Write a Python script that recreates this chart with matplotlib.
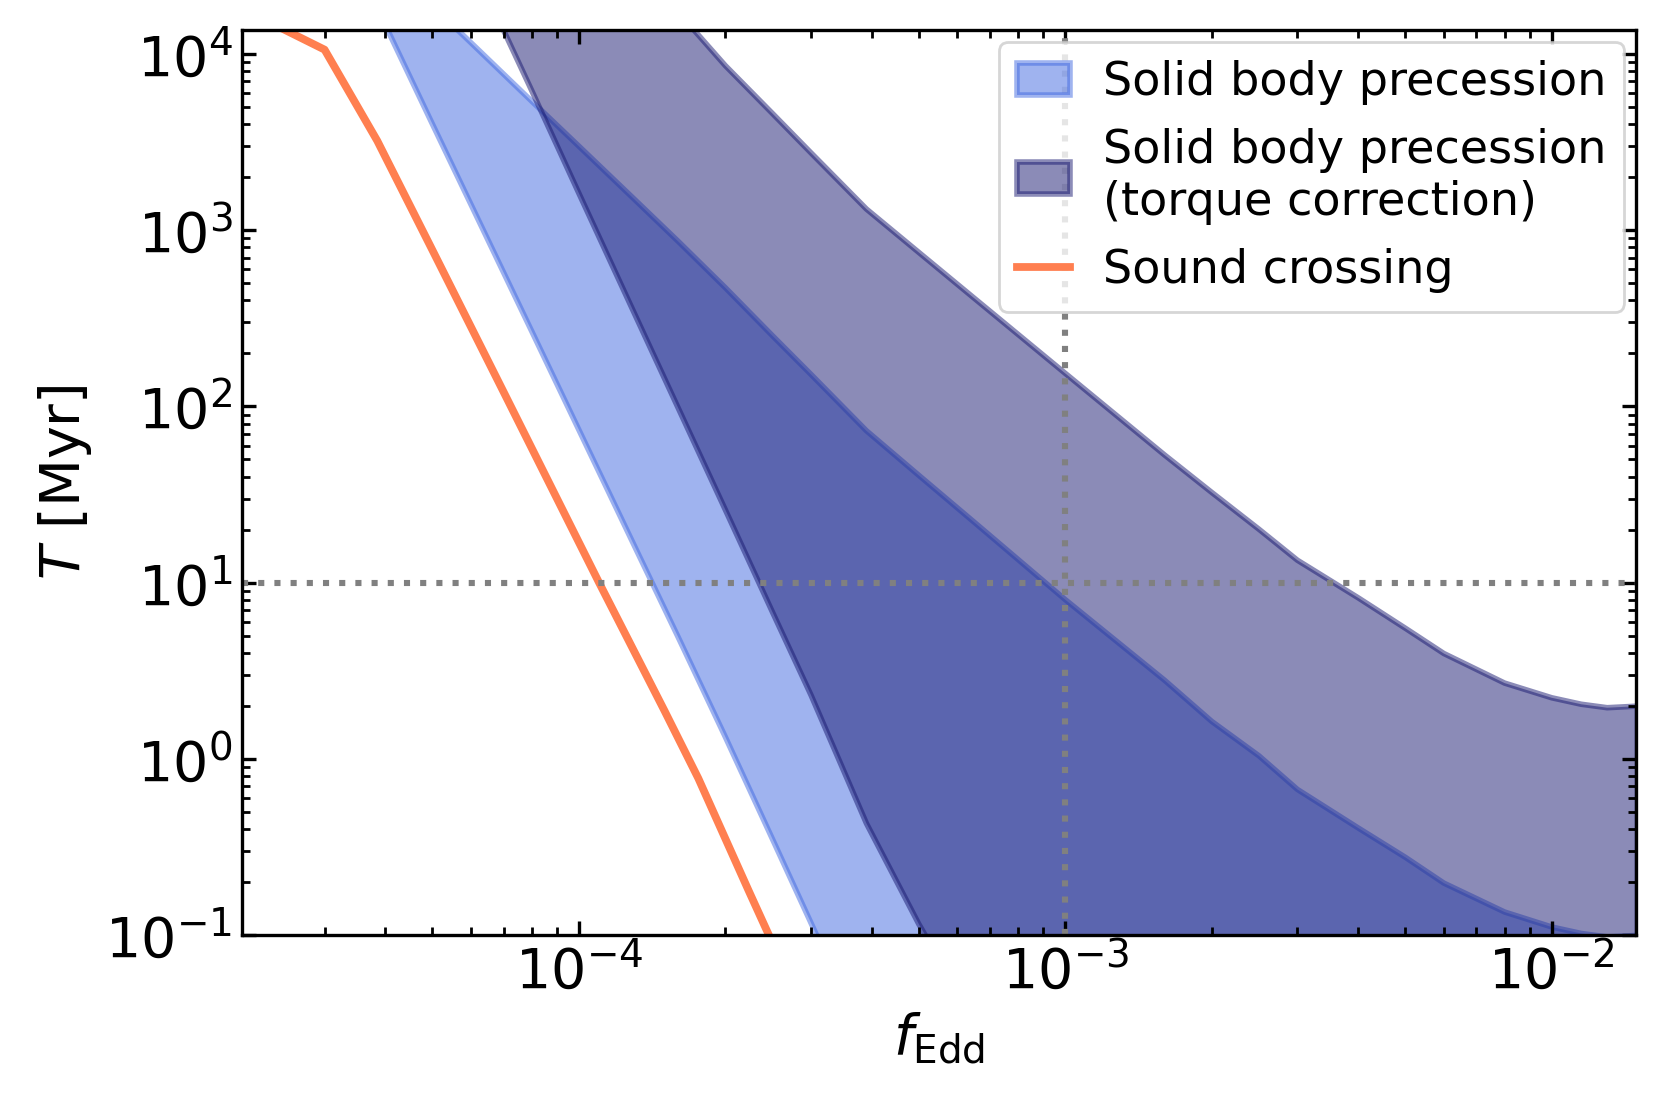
import numpy as np
import matplotlib
matplotlib.use("Agg")
from matplotlib import pyplot as plt

# Solid body precession band
f_sbp = [2e-5, 3e-5, 4e-5, 5e-5, 6e-5, 8e-5, 1e-4, 1.3e-4, 1.6e-4, 2e-4, 2.5e-4,
         3e-4, 3.9e-4, 5e-4, 6.5e-4, 1e-3, 1.6e-3, 2e-3, 2.5e-3, 3e-3, 4e-3,
         5e-3, 6e-3, 8e-3, 1e-2, 1.15e-2, 1.3e-2, 1.5e-2]
T_sbp_lo = [7.9e5, 7.7e4, 1.46e4, 4.0e3, 1.4e3, 267, 73.6, 16.2, 4.9, 1.33, 0.35,
            0.117, 0.024, 5.4e-3, 1.5e-3, 3e-4, 1e-4, 8e-5, 5e-5, 4e-5, 3e-5,
            2e-5, 2e-5, 1e-5, 1e-5, 1e-5, 1e-5, 1e-5]
T_sbp_hi = [2.1e5, 7.3e4, 3.4e4, 1.88e4, 1.16e4, 5.4e3, 3.0e3, 1.5e3, 865, 472, 252,
            152, 72.8, 40.6, 22.0, 8.0, 2.79, 1.63, 1.04, 0.67, 0.405,
            0.276, 0.197, 0.135, 0.111, 0.102, 0.0975, 0.0995]

# Solid body precession with torque correction
f_tq = [6e-5, 8e-5, 1e-4, 1.3e-4, 1.6e-4, 2e-4, 2.5e-4, 3e-4, 3.9e-4, 5e-4,
        6.5e-4, 1e-3, 1.6e-3, 2e-3, 2.5e-3, 3e-3, 4e-3, 5e-3, 6e-3, 8e-3,
        1e-2, 1.15e-2, 1.3e-2, 1.5e-2]
T_tq_lo = [3.4e4, 6.2e3, 1.62e3, 338, 98, 25.9, 6.8, 2.3, 0.43, 0.115,
           0.033, 4e-3, 1e-3, 7e-4, 4e-4, 3e-4, 2e-4, 1.5e-4, 1e-4, 7e-5,
           5e-5, 5e-5, 5e-5, 5e-5]
T_tq_hi = [2.3e5, 1.08e5, 6.0e4, 3.0e4, 1.73e4, 8.6e3, 4.6e3, 2.75e3, 1.32e3, 748,
           411, 154, 53, 32.5, 20.1, 13.4, 8.2, 5.51, 3.96, 2.69,
           2.22, 2.04, 1.95, 1.99]

# Sound crossing time
f_sound = [2e-5, 3e-5, 3.85e-5, 5e-5, 7e-5, 1.1e-4, 1.5e-4, 1.76e-4, 2.23e-4, 2.6e-4]
T_sound = [1.85e4, 1.06e4, 3220, 770, 121, 10, 1.87, 0.774, 0.18, 0.071]

plt.rcParams['font.size'] = 20
fig = plt.figure(figsize=(8.33, 5.52), dpi=200)
ax = fig.add_axes([0.1453, 0.1531, 0.8367, 0.8197])

ax.fill_between(f_sbp, T_sbp_lo, T_sbp_hi, color='royalblue', alpha=0.5,
                lw=2, label='Solid body precession')
ax.fill_between(f_tq, T_tq_lo, T_tq_hi, color='midnightblue', alpha=0.5,
                lw=2, label='Solid body precession\n(torque correction)')
ax.plot(f_sound, T_sound, color='coral', lw=2.8, label='Sound crossing')

ax.axhline(10, color='gray', ls=':', lw=2.2)
ax.axvline(1e-3, color='gray', ls=':', lw=2.2)

ax.set_xscale('log')
ax.set_yscale('log')
ax.set_xlim(2.03e-5, 1.49e-2)
ax.set_ylim(0.1, 1.37e4)
ax.set_xlabel(r'$f_{\rm Edd}$')
ax.set_ylabel(r'$T$ [Myr]')

ax.tick_params(which='both', direction='in', top=True, right=True)
ax.tick_params(which='major', length=5, width=1.2)
ax.tick_params(which='minor', length=2.8, width=1.0)
for s in ax.spines.values():
    s.set_linewidth(1.2)

ax.legend(loc='upper right', borderaxespad=0.25, handlelength=1.15,
          handletextpad=0.7, fontsize=16.6)

fig.savefig('out.png', dpi=200)
